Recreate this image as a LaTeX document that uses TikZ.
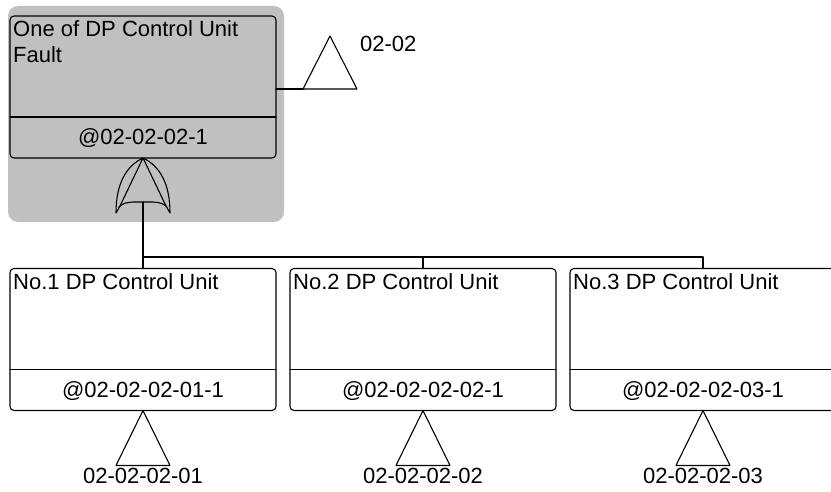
\documentclass[tikz,border=0pt]{standalone}
\usepackage{fontspec}
\setmainfont{Liberation Sans}
\definecolor{hilite}{HTML}{C0C0C0}
\begin{document}
\begin{tikzpicture}[x=1pt, y=-1pt, line cap=round, line join=round,
    wire/.style={line width=1.1pt},
    unit/.style={draw, line width=1.1pt, rounded corners=4pt, minimum width=266pt,
      minimum height=142pt, inner sep=0pt, outer sep=0pt},
    title/.style={inner sep=0pt, anchor=base west, align=left,
      font=\fontsize{22}{26}\selectfont},
    code/.style={inner sep=0pt, font=\fontsize{22}{26}\selectfont}]
  \useasboundingbox (0,0) rectangle (831,492);
  % grey highlight round the top event
  \fill[hilite, rounded corners=10pt] (8,6) rectangle (284,222);
  % top event
  \node[unit] (top) at (143,87) {};
  \draw[wire] ([yshift=-101pt]top.north west) -- ([yshift=-101pt]top.north east);
  % base of a two-line node is its last line
  \node[title] (topt) at ([xshift=3pt, yshift=-47pt]top.north west) {One of DP Control Unit\\Fault};
  \node[code, anchor=base] (topc) at ([yshift=-129pt]top.north) {@02-02-02-1};
  % transfer out of the top event
  \coordinate (x0) at (303,89);
  \draw[wire] (top.east |- x0) -- (x0);
  \draw[wire] (x0) -- ++(27,-53) -- ++(27,53) -- cycle;
  \node[code, anchor=base west] (x0l) at (360,52) {02-02};
  % OR gate
  \coordinate (gout) at (143,158);
  \coordinate (gin) at (143,202);
  \draw[wire] (gout) .. controls (126,166) and (116,184) .. (116,213) -- (120,206) -- cycle;
  \draw[wire] (gout) .. controls (160,166) and (170,184) .. (170,213) -- (166,206) -- cycle;
  \draw[wire] (119,207) .. controls (124,203) .. (133,202) -- (153,202) .. controls (162,203) .. (167,207);
  % the three control units
  \node[unit] (b1) at (143,339.5) {};
  \node[unit] (b2) at (423,339.5) {};
  \node[unit] (b3) at (703,339.5) {};
  \foreach \b/\n in {b1/1, b2/2, b3/3} {
    \draw[wire] ([yshift=-101pt]\b.north west) -- ([yshift=-101pt]\b.north east);
    \node[title] (\b t) at ([xshift=3pt, yshift=-21pt]\b.north west) {No.\n\ DP Control Unit};
    \node[code, anchor=base] (\b c) at ([yshift=-129pt]\b.north) {@02-02-02-0\n-1};
    \draw[wire] (\b.south) -- ++(-27,55) -- ++(54,0) -- cycle;
    \node[code, anchor=north] (\b l) at ([yshift=-57pt]\b.south) {02-02-02-0\n};
  }
  % gate input bus
  \coordinate (bus) at (143,257);
  \draw[wire] (gin) -- (b1.north);
  \draw[wire] (bus) -| (b2.north);
  \draw[wire] (bus) -| (b3.north);
\end{tikzpicture}
\end{document}
